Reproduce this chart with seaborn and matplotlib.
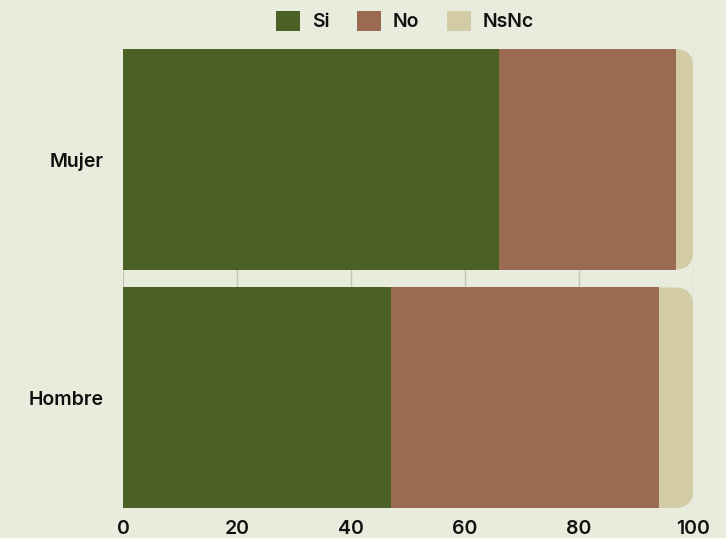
import matplotlib
matplotlib.use("Agg")
import matplotlib.pyplot as plt
from matplotlib.patches import FancyBboxPatch, Patch
import seaborn as sns
import pandas as pd

# Survey answers by gender (percent)
categories = ["Mujer", "Hombre"]
si = [66, 47]
no = [31, 47]
nsnc = [3, 6]
series_names = ["Si", "No", "NsNc"]
colors = ["#4b6124", "#9a6a53", "#d3cba5"]
bg = "#e8ecdc"
xticks = [0, 20, 40, 60, 80, 100]

sns.set_theme(style="white")
plt.rcParams["font.family"] = ["Inter", "DejaVu Sans"]
plt.rcParams["text.color"] = "#111111"
plt.rcParams["xtick.color"] = "#111111"
plt.rcParams["ytick.color"] = "#111111"

df = pd.DataFrame({"cat": categories, "Si": si, "No": no, "NsNc": nsnc})
df["cum_no"] = df["Si"] + df["No"]
df["cum_all"] = df["cum_no"] + df["NsNc"]

fig = plt.figure(figsize=(7.26, 5.38), dpi=100, facecolor=bg)
ax = fig.add_axes([123 / 726, 30 / 538, 570 / 726, 459 / 538])
ax.set_facecolor(bg)

bar_w = 0.925
# Stacked bars drawn as cumulative totals, outermost first
sns.barplot(data=df, x="cum_all", y="cat", color=colors[2], width=bar_w,
            saturation=1, linewidth=0, ax=ax, zorder=2)
n_outer = len(ax.patches)
sns.barplot(data=df, x="cum_no", y="cat", color=colors[1], width=bar_w,
            saturation=1, linewidth=0, ax=ax, zorder=3)
sns.barplot(data=df, x="Si", y="cat", color=colors[0], width=bar_w,
            saturation=1, linewidth=0, ax=ax, zorder=4)

ax.set_xlim(0, 100)
ax.set_ylim(len(categories) - 1 + bar_w / 2, -bar_w / 2)

# Round the right end of each full bar
px_per_x = 570 / 100
px_per_y = 459 / (len(categories) - 1 + bar_w)
r_px = 18
r_x = r_px / px_per_x
aspect = (r_px / px_per_y) / r_x
for p in list(ax.patches[:n_outer]):
    x0, y0 = p.get_x(), p.get_y()
    w, h = p.get_width(), p.get_height()
    rounded = FancyBboxPatch((x0, y0), w, h,
                             boxstyle=f"round,pad=0,rounding_size={r_x}",
                             mutation_aspect=aspect,
                             facecolor=colors[2], edgecolor="none",
                             linewidth=0, zorder=2)
    p.set_visible(False)
    ax.add_patch(rounded)

ax.set_xticks(xticks)
ax.set_xticklabels([str(t) for t in xticks], fontsize=14, fontweight="semibold")
ax.tick_params(axis="y", labelsize=14, length=0, pad=14)
for lbl in ax.get_yticklabels():
    lbl.set_fontweight("semibold")
ax.tick_params(axis="x", length=0, pad=9)
ax.set_xlabel("")
ax.set_ylabel("")
ax.xaxis.grid(True, color="#c2c5b8", linewidth=1.0, zorder=0)
ax.set_axisbelow(True)
for s in ax.spines.values():
    s.set_visible(False)

handles = [Patch(facecolor=c, edgecolor="none", label=n)
           for c, n in zip(colors, series_names)]
leg = fig.legend(handles=handles, loc="center", bbox_to_anchor=(405 / 726, 1 - 21 / 538),
                 ncol=3, frameon=False, fontsize=14, handlelength=1.25,
                 handleheight=1.25, handletextpad=0.6, columnspacing=1.4)
for t in leg.get_texts():
    t.set_fontweight("semibold")

fig.savefig("out.png", dpi=100, facecolor=bg)
